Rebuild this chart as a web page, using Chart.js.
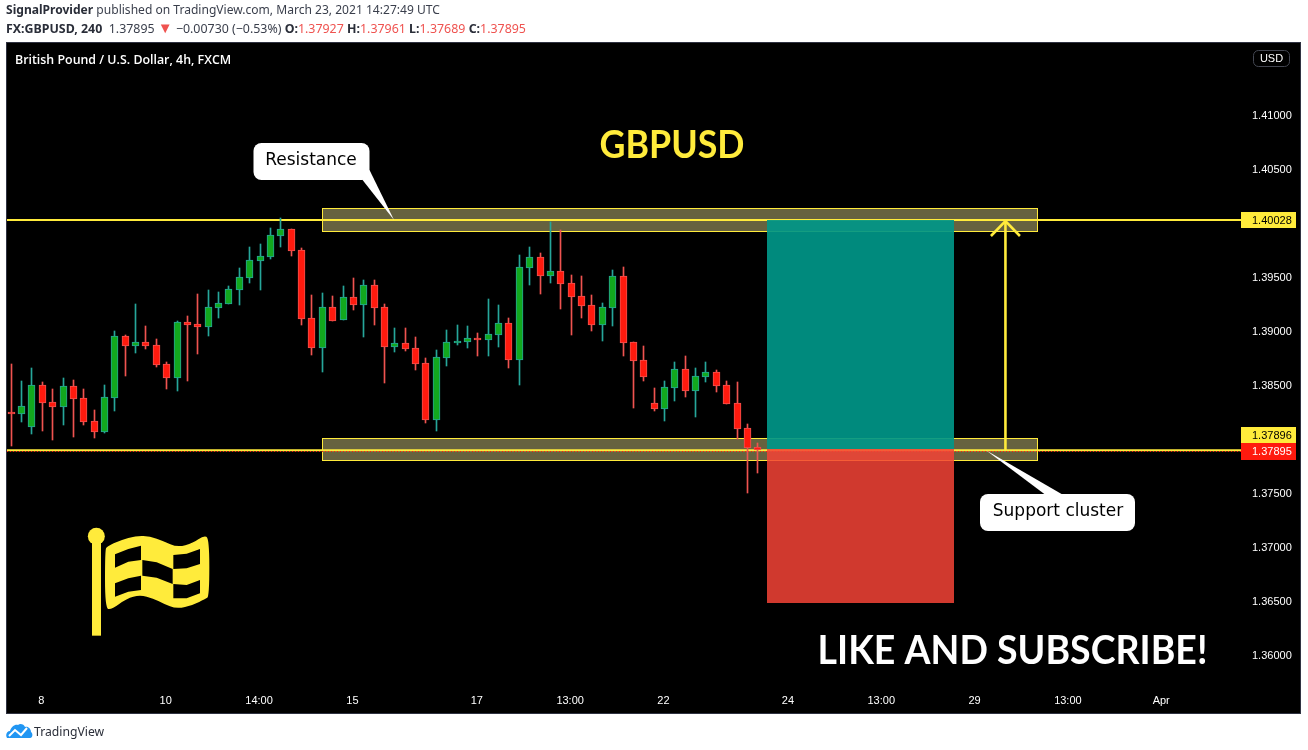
<!DOCTYPE html>
<html><head><meta charset="utf-8">
<script src="https://cdn.jsdelivr.net/npm/chart.js@4"></script>
<style>
html,body{margin:0;padding:0;background:#fff;width:1308px;height:750px;overflow:hidden}
#c{position:absolute;left:0;top:0}
.h{position:absolute;left:6px;font:12.07px/16px "Noto Sans","Open Sans",sans-serif;color:#3a3f4c;white-space:nowrap}
.h b{font-weight:700;color:#2a2e39}.h i{font-style:normal;color:#ef5350}
.h u{text-decoration:none;color:#ef5350;font-size:15px;line-height:12px}
#tv{position:absolute;left:34px;top:723px;font:12.2px/17px "Noto Sans",sans-serif;color:#2a2e39}
#logo{position:absolute;left:6px;top:722px}
</style></head><body>
<canvas id="c" width="1308" height="750"></canvas>
<div class="h" style="top:2px"><b>SignalProvider</b> published on TradingView.com, March 23, 2021 14:27:49 UTC</div>
<div class="h" style="top:21px;font-size:12.4px"><b>FX:GBPUSD, 240</b>&nbsp; 1.37895 <u>▼</u> −0.00730 (−0.53%) <b>O:</b><i>1.37927</i> <b>H:</b><i>1.37961</i> <b>L:</b><i>1.37689</i> <b>C:</b><i>1.37895</i></div>
<svg id="logo" width="28" height="18" viewBox="0 0 28 18"><path d="M1 16C-1 13 1 9 4 9C5 5 9 2 12 3C14 1 18 2 19 5C22 4 25 7 25 10C27 11 27 16 24 16Z" fill="#2196f3"/><path d="M3 14L9 8L15 13L21 6" fill="none" stroke="#fff" stroke-width="2"/></svg>
<div id="tv">TradingView</div>
<script>
const slotCount = 119;
const xTickIndex = [3,15,24,33,45,54,63,75,84,93,102,111];
const xTickLabels = ['8','10','14:00','15','17','13:00','22','24','13:00','29','13:00','Apr'];
const yTickValues = [1.41,1.405,1.395,1.39,1.385,1.375,1.37,1.365,1.36];

const opens = [1.38250,1.38235,1.38115,1.38497,1.38340,1.38300,1.38488,1.38377,1.38164,1.38068,
1.38383,1.38951,1.38864,1.38895,1.38868,1.38691,1.38568,1.39080,1.39062,1.39040,
1.39216,1.39253,1.39383,1.39494,1.39651,1.39688,1.39883,1.39941,1.39747,1.39117,
1.38846,1.39219,1.39105,1.39312,1.39244,1.39423,1.39219,1.38855,1.38886,1.38840,
1.38701,1.38179,1.38753,1.38892,1.38901,1.38935,1.38920,1.38966,1.39071,1.38735,
1.39587,1.39682,1.39512,1.39553,1.39441,1.39321,1.39238,1.39059,1.39216,1.39506,
1.38895,1.38729,1.38331,1.38281,1.38476,1.38645,1.38448,1.38577,1.38618,1.38497,
1.38331,1.38099,1.37927];
const highs = [1.38695,1.38534,1.38658,1.38528,1.38460,1.38565,1.38543,1.38460,1.38269,1.38497,
1.39000,1.38963,1.39250,1.39046,1.38923,1.38710,1.39093,1.39139,1.39343,1.39380,
1.39358,1.39417,1.39580,1.39778,1.39806,1.39954,1.40046,1.39941,1.39766,1.39333,
1.39349,1.39321,1.39414,1.39488,1.39472,1.39472,1.39250,1.39025,1.39025,1.38945,
1.38747,1.38824,1.39010,1.39056,1.39046,1.38979,1.39296,1.39241,1.39121,1.39704,
1.39778,1.39722,1.40009,1.39935,1.39519,1.39509,1.39333,1.39259,1.39565,1.39593,
1.38895,1.38861,1.38472,1.38534,1.38710,1.38769,1.38658,1.38710,1.38636,1.38534,
1.38525,1.38136,1.37961];
const lows = [1.37936,1.38158,1.38047,1.38074,1.37991,1.38130,1.38019,1.38130,1.38010,1.38059,
1.38260,1.38584,1.38797,1.38833,1.38667,1.38463,1.38445,1.38537,1.38787,1.38954,
1.39121,1.39253,1.39241,1.39445,1.39380,1.39667,1.39778,1.39695,1.39056,1.38778,
1.38621,1.39096,1.39105,1.39195,1.38945,1.39056,1.38519,1.38806,1.38815,1.38639,
1.38148,1.38074,1.38676,1.38871,1.38843,1.38769,1.38769,1.38852,1.38658,1.38500,
1.39426,1.39343,1.39445,1.39204,1.38963,1.39121,1.39000,1.38908,1.39047,1.38769,
1.38287,1.38537,1.38260,1.38167,1.38352,1.38389,1.38204,1.38528,1.38435,1.38327,
1.38003,1.37500,1.37689];
const closes = [1.38235,1.38303,1.38497,1.38337,1.38300,1.38488,1.38374,1.38161,1.38068,1.38386,
1.38951,1.38864,1.38895,1.38864,1.38688,1.38568,1.39080,1.39059,1.39040,1.39219,
1.39256,1.39386,1.39497,1.39654,1.39691,1.39886,1.39941,1.39744,1.39114,1.38846,
1.39219,1.39096,1.39312,1.39244,1.39423,1.39216,1.38855,1.38886,1.38837,1.38698,
1.38179,1.38756,1.38895,1.38905,1.38932,1.38920,1.38969,1.39071,1.38735,1.39590,
1.39682,1.39512,1.39553,1.39438,1.39318,1.39235,1.39059,1.39219,1.39506,1.38892,
1.38726,1.38577,1.38281,1.38479,1.38645,1.38448,1.38580,1.38618,1.38494,1.38327,
1.38096,1.37920,1.37895];

const resistanceLevel = 1.40028, supportLevel = 1.37896, lastPrice = 1.37895;
const resistanceZone = {from:30, to:98.9, top:1.40143, bottom:1.39930};
const supportZone = {from:30, to:98.9, top:1.38007, bottom:1.37803};
const longPosition = {from:72.88, to:90.9, target:1.40028, entry:1.37907, stop:1.36481};
const arrowSlot = 95.88;

const slots = Array.from({length:slotCount},(_,i)=>i);
const isUp = i => closes[i] >= opens[i];
const wickColor = i => isUp(i) ? '#26a69a' : '#ef5350';
const bodyColor = i => isUp(i) ? '#12a81e' : '#ff1a0e';
const idx = opens.map((_,i)=>i);
const YEL='#ffeb3b';

const pixelSnap = {id:'snap', beforeDatasetsDraw(chart){
  chart.getSortedVisibleDatasetMetas().forEach(m=>m.data.forEach(el=>{
    el.x=Math.floor(el.x)+0.5; el.y=Math.round(el.y); el.base=Math.round(el.base);
  }));
}};

function roundedCallout(ctx,x0,y0,x1,y1,r,tail){
  ctx.beginPath(); ctx.roundRect(x0,y0,x1-x0,y1-y0,r); ctx.fillStyle='#fff'; ctx.fill();
  ctx.beginPath(); tail.forEach((p,i)=>i?ctx.lineTo(p[0],p[1]):ctx.moveTo(p[0],p[1])); ctx.closePath(); ctx.fill();
}
function poly(ctx,pts,ox,oy){
  const P=pts.map(p=>[ox+p[0]/3,oy+p[1]/3]);
  ctx.moveTo(P[0][0],P[0][1]);
  for(let i=1;i<P.length;i++) ctx.lineTo(P[i][0],P[i][1]);
  ctx.closePath();
}
function curved(ctx,pts,ox,oy){
  const P=pts.map(p=>[ox+p[0]/3,oy+p[1]/3]),n=P.length;
  const m=(a,b)=>[(a[0]+b[0])/2,(a[1]+b[1])/2];
  const s=m(P[n-1],P[0]); ctx.moveTo(s[0],s[1]);
  for(let i=0;i<n;i++){const e=m(P[i],P[(i+1)%n]);ctx.quadraticCurveTo(P[i][0],P[i][1],e[0],e[1]);}
  ctx.closePath();
}
function drawFlag(ctx){
  const ox=70, oy=515;
  ctx.fillStyle=YEL;
  ctx.beginPath(); ctx.arc(ox+79/3,oy+64/3,8.5,0,7); ctx.fill();
  ctx.fillRect(ox+66/3,oy+80/3,27/3,282/3);
  ctx.beginPath();
  curved(ctx,[[105,104],[112,94],[150,76],[200,62],[240,64],[280,78],[322,97],[370,84],[400,62],[418,68],[418,245],[405,252],[370,270],[320,282],[280,266],[250,250],[210,240],[170,250],[125,284],[105,280]],ox,oy);
  ctx.fill();
  ctx.fillStyle='#000';
  [[[135,118],[175,102],[213,92],[213,135],[175,140],[135,158]],
   [[217,135],[260,142],[308,162],[308,207],[260,188],[217,182]],
   [[310,120],[350,116],[390,102],[390,147],[350,160],[310,162]],
   [[135,205],[175,190],[213,182],[213,225],[175,230],[135,245]],
   [[310,207],[350,210],[390,195],[390,235],[350,250],[310,250]]
  ].forEach(c=>{ctx.beginPath();poly(ctx,c,ox,oy);ctx.fill();});
}
function squeezed(c,txt,cx,cy,sx){c.save();c.translate(cx,cy);c.scale(sx,1);c.fillText(txt,0,0);c.restore();}

const overlay = {id:'overlay',
  beforeDraw(chart){
    const c=chart.ctx; c.save();
    c.fillStyle='#000'; c.fillRect(7,43,1293,670);
    c.strokeStyle='#2f3241'; c.lineWidth=1; c.strokeRect(6.5,42.5,1294,671);
    c.restore();
  },
  beforeDatasetsDraw(chart){
    const c=chart.ctx,X=chart.scales.x,Y=chart.scales.y; c.save();
    const zone=z=>{
      const x0=Math.round(X.getPixelForValue(z.from))+.5,x1=Math.round(X.getPixelForValue(z.to))+.5;
      const y0=Math.round(Y.getPixelForValue(z.top))+.5,y1=Math.round(Y.getPixelForValue(z.bottom))+.5;
      c.fillStyle='rgba(255,245,157,.4)'; c.fillRect(x0,y0,x1-x0,y1-y0);
      c.strokeStyle=YEL; c.lineWidth=1; c.strokeRect(x0,y0,x1-x0,y1-y0);
    };
    zone(resistanceZone); zone(supportZone);
    const hl=(v,col,w)=>{const y=Y.getPixelForValue(v);c.strokeStyle=col;c.lineWidth=w;
      c.beginPath();c.moveTo(7,y);c.lineTo(X.right+1,y);c.stroke();};
    hl(resistanceLevel,YEL,2); hl(supportLevel,YEL,2);
    const y=Y.getPixelForValue(lastPrice)+1;
    c.strokeStyle='#ff1a0e';c.lineWidth=1;c.setLineDash([1,2]);c.beginPath();c.moveTo(7,Math.round(y)+.5);c.lineTo(X.right+1,Math.round(y)+.5);c.stroke();c.setLineDash([]);
    const lx0=Math.round(X.getPixelForValue(longPosition.from)),lx1=Math.round(X.getPixelForValue(longPosition.to));
    const yT=Math.round(Y.getPixelForValue(longPosition.target)),yE=Math.round(Y.getPixelForValue(longPosition.entry)),yS=Math.round(Y.getPixelForValue(longPosition.stop));
    c.fillStyle='rgba(0,150,136,.92)'; c.fillRect(lx0,yT,lx1-lx0,yE-yT);
    c.fillStyle='rgba(244,67,54,.85)'; c.fillRect(lx0,yE,lx1-lx0,yS-yE);
    c.restore();
  },
  afterDraw(chart){
    const c=chart.ctx,X=chart.scales.x,Y=chart.scales.y; c.save();
    c.textBaseline='middle';
    const ax=X.getPixelForValue(arrowSlot),ay0=Y.getPixelForValue(supportLevel),ay1=Y.getPixelForValue(resistanceLevel)+1;
    c.strokeStyle=YEL;c.lineWidth=2.6;c.lineCap='butt';
    c.beginPath();c.moveTo(ax,ay0);c.lineTo(ax,ay1);c.stroke();
    c.beginPath();c.moveTo(ax-14.5,ay1+15);c.lineTo(ax,ay1);c.lineTo(ax+14.5,ay1+15);c.stroke();
    roundedCallout(c,253.5,143,369.5,180,8,[[361,178],[369.5,170],[394,Y.getPixelForValue(resistanceLevel)]]);
    roundedCallout(c,980,494,1135,531,8,[[1047,496],[1065,496],[986,Y.getPixelForValue(supportLevel)]]);
    c.fillStyle='#000'; c.font='17px "DejaVu Sans"';
    c.textAlign='center';
    c.fillText('Resistance',311,160.5);
    c.fillText('Support cluster',1058,511.5);
    c.fillStyle=YEL; c.font='bold 39px Lato';
    squeezed(c,'GBPUSD',672,145,0.917);
    c.fillStyle='#fff'; c.font='bold 40px Lato';
    squeezed(c,'LIKE AND SUBSCRIBE!',1012.5,651,0.937);
    c.textAlign='left';
    c.font='600 12.4px "Open Sans"'; c.fillStyle='#fff';
    c.fillText('British Pound / U.S. Dollar, 4h, FXCM',15,60.5);
    c.font='11px "Liberation Sans"';
    const tag=(yTop,h,bg,fg,txt)=>{c.fillStyle=bg;c.fillRect(1241,yTop,55,h);c.fillStyle=fg;c.fillText(txt,1252,yTop+h/2+.5);};
    const ry=Math.round(Y.getPixelForValue(resistanceLevel));
    tag(ry-8,16,YEL,'#000',resistanceLevel.toFixed(5));
    const sy=Math.round(Y.getPixelForValue(supportLevel));
    tag(sy-23,16,YEL,'#000',supportLevel.toFixed(5));
    tag(sy-7,17,'#ff1a0e','#fff',lastPrice.toFixed(5));
    c.strokeStyle='#434651';c.lineWidth=1;c.beginPath();c.roundRect(1253.5,50.5,36,16,5);c.stroke();
    c.fillStyle='#fff';c.textAlign='center';c.fillText('USD',1271.5,58.5);
    drawFlag(c);
    c.restore();
  }
};

new Chart(document.getElementById('c'),{
  type:'bar',
  data:{labels:slots,datasets:[
    {label:'wick',grouped:false,order:2,barThickness:1,borderWidth:0,borderSkipped:false,
     data:idx.map(i=>[lows[i],highs[i]]),backgroundColor:idx.map(wickColor)},
    {label:'body',grouped:false,order:1,barThickness:7,borderWidth:1,borderSkipped:false,
     data:idx.map(i=>[opens[i],closes[i]]),backgroundColor:idx.map(bodyColor),borderColor:idx.map(wickColor)}
  ]},
  options:{
    responsive:false,animation:false,events:[],
    layout:{padding:{left:6,right:0,top:43,bottom:37}},
    plugins:{legend:{display:false},tooltip:{enabled:false},title:{display:false}},
    scales:{
      x:{type:'category',offset:true,grid:{display:false},border:{display:false},
         afterBuildTicks(s){s.ticks=xTickIndex.map(v=>({value:v}));},
         afterFit(s){s.height=27;},
         ticks:{autoSkip:false,maxRotation:0,color:'#fff',font:{family:'"Liberation Sans"',size:11},padding:0,labelOffset:-1,
                callback:v=>xTickLabels[xTickIndex.indexOf(v)]}},
      y:{position:'right',min:1.35713,max:1.41667,grid:{display:false},border:{display:false},
         afterBuildTicks(s){s.ticks=yTickValues.map(v=>({value:v}));},
         afterFit(s){s.width=68;},
         ticks:{color:'#fff',font:{family:'"Liberation Sans"',size:11},padding:4,labelOffset:1,callback:v=>v.toFixed(5)}}
    }
  },
  plugins:[pixelSnap,overlay]
});
</script></body></html>
